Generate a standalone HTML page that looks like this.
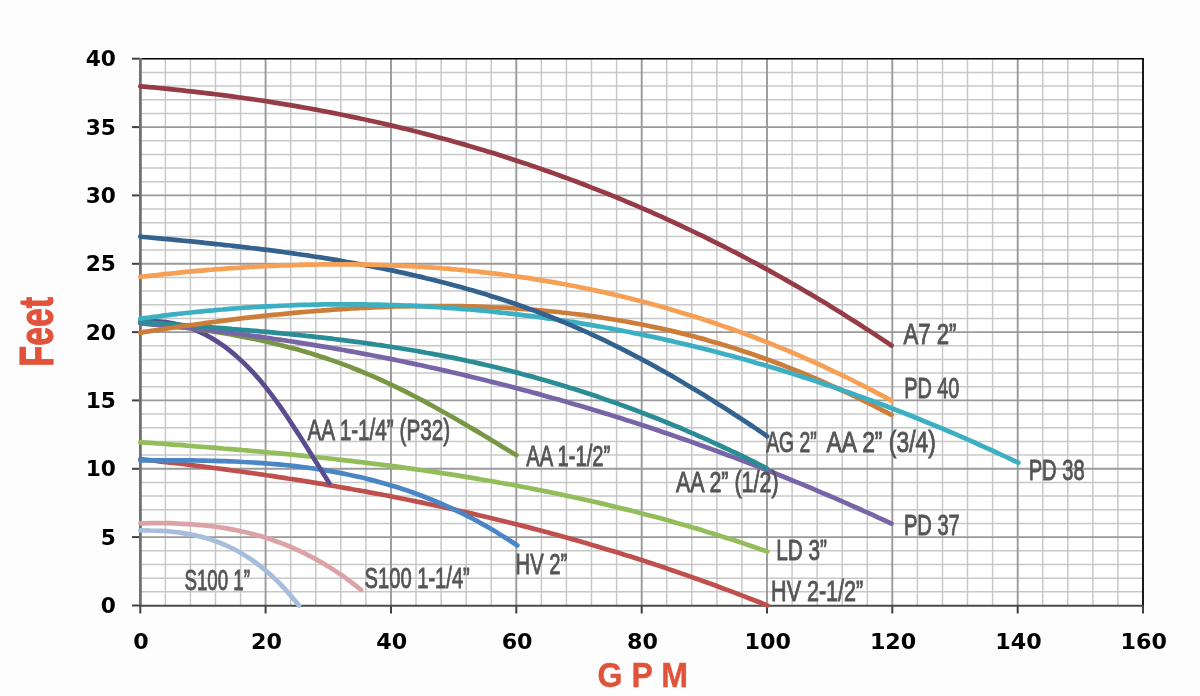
<!DOCTYPE html>
<html><head><meta charset="utf-8"><title>Pump Curves</title>
<style>
html,body{margin:0;padding:0;background:#fdfdfd;}
body{width:1200px;height:696px;overflow:hidden;}
svg{display:block;}
.tick{font-family:"DejaVu Sans","Liberation Sans",sans-serif;font-weight:bold;font-size:20.5px;fill:#000;}
.lbl{font-family:"Liberation Sans",sans-serif;font-weight:normal;font-size:29px;fill:#555555;stroke:#555555;stroke-width:0.9px;}
.ax{font-family:"Liberation Sans",sans-serif;font-weight:bold;fill:#e0533a;}
</style></head><body>
<svg width="1200" height="696" viewBox="0 0 1200 696">
<rect x="0" y="0" width="1200" height="696" fill="#fdfdfd"/>
<rect x="140.3" y="58.7" width="1002.7" height="546.8" fill="#ffffff"/>
<g stroke="#c8c8c8" stroke-width="1.5" fill="none"><line x1="141" y1="591.8" x2="1142" y2="591.8"/><line x1="141" y1="578.2" x2="1142" y2="578.2"/><line x1="141" y1="564.5" x2="1142" y2="564.5"/><line x1="141" y1="550.8" x2="1142" y2="550.8"/><line x1="141" y1="523.5" x2="1142" y2="523.5"/><line x1="141" y1="509.8" x2="1142" y2="509.8"/><line x1="141" y1="496.1" x2="1142" y2="496.1"/><line x1="141" y1="482.5" x2="1142" y2="482.5"/><line x1="141" y1="455.1" x2="1142" y2="455.1"/><line x1="141" y1="441.5" x2="1142" y2="441.5"/><line x1="141" y1="427.8" x2="1142" y2="427.8"/><line x1="141" y1="414.1" x2="1142" y2="414.1"/><line x1="141" y1="386.8" x2="1142" y2="386.8"/><line x1="141" y1="373.1" x2="1142" y2="373.1"/><line x1="141" y1="359.4" x2="1142" y2="359.4"/><line x1="141" y1="345.8" x2="1142" y2="345.8"/><line x1="141" y1="318.4" x2="1142" y2="318.4"/><line x1="141" y1="304.8" x2="1142" y2="304.8"/><line x1="141" y1="291.1" x2="1142" y2="291.1"/><line x1="141" y1="277.4" x2="1142" y2="277.4"/><line x1="141" y1="250.1" x2="1142" y2="250.1"/><line x1="141" y1="236.4" x2="1142" y2="236.4"/><line x1="141" y1="222.7" x2="1142" y2="222.7"/><line x1="141" y1="209.1" x2="1142" y2="209.1"/><line x1="141" y1="181.7" x2="1142" y2="181.7"/><line x1="141" y1="168.1" x2="1142" y2="168.1"/><line x1="141" y1="154.4" x2="1142" y2="154.4"/><line x1="141" y1="140.7" x2="1142" y2="140.7"/><line x1="141" y1="113.4" x2="1142" y2="113.4"/><line x1="141" y1="99.7" x2="1142" y2="99.7"/><line x1="141" y1="86.0" x2="1142" y2="86.0"/><line x1="141" y1="72.4" x2="1142" y2="72.4"/><line x1="165.4" y1="59" x2="165.4" y2="605"/><line x1="190.4" y1="59" x2="190.4" y2="605"/><line x1="215.5" y1="59" x2="215.5" y2="605"/><line x1="240.6" y1="59" x2="240.6" y2="605"/><line x1="290.7" y1="59" x2="290.7" y2="605"/><line x1="315.8" y1="59" x2="315.8" y2="605"/><line x1="340.8" y1="59" x2="340.8" y2="605"/><line x1="365.9" y1="59" x2="365.9" y2="605"/><line x1="416.0" y1="59" x2="416.0" y2="605"/><line x1="441.1" y1="59" x2="441.1" y2="605"/><line x1="466.2" y1="59" x2="466.2" y2="605"/><line x1="491.2" y1="59" x2="491.2" y2="605"/><line x1="541.4" y1="59" x2="541.4" y2="605"/><line x1="566.4" y1="59" x2="566.4" y2="605"/><line x1="591.5" y1="59" x2="591.5" y2="605"/><line x1="616.6" y1="59" x2="616.6" y2="605"/><line x1="666.7" y1="59" x2="666.7" y2="605"/><line x1="691.8" y1="59" x2="691.8" y2="605"/><line x1="716.9" y1="59" x2="716.9" y2="605"/><line x1="741.9" y1="59" x2="741.9" y2="605"/><line x1="792.1" y1="59" x2="792.1" y2="605"/><line x1="817.1" y1="59" x2="817.1" y2="605"/><line x1="842.2" y1="59" x2="842.2" y2="605"/><line x1="867.3" y1="59" x2="867.3" y2="605"/><line x1="917.4" y1="59" x2="917.4" y2="605"/><line x1="942.5" y1="59" x2="942.5" y2="605"/><line x1="967.5" y1="59" x2="967.5" y2="605"/><line x1="992.6" y1="59" x2="992.6" y2="605"/><line x1="1042.7" y1="59" x2="1042.7" y2="605"/><line x1="1067.8" y1="59" x2="1067.8" y2="605"/><line x1="1092.9" y1="59" x2="1092.9" y2="605"/><line x1="1117.9" y1="59" x2="1117.9" y2="605"/></g>
<g stroke="#9a9a9a" stroke-width="1.9" fill="none"><line x1="141" y1="537.1" x2="1142" y2="537.1"/><line x1="141" y1="468.8" x2="1142" y2="468.8"/><line x1="141" y1="400.4" x2="1142" y2="400.4"/><line x1="141" y1="332.1" x2="1142" y2="332.1"/><line x1="141" y1="263.8" x2="1142" y2="263.8"/><line x1="141" y1="195.4" x2="1142" y2="195.4"/><line x1="141" y1="127.1" x2="1142" y2="127.1"/><line x1="265.6" y1="59" x2="265.6" y2="605"/><line x1="391.0" y1="59" x2="391.0" y2="605"/><line x1="516.3" y1="59" x2="516.3" y2="605"/><line x1="641.7" y1="59" x2="641.7" y2="605"/><line x1="767.0" y1="59" x2="767.0" y2="605"/><line x1="892.3" y1="59" x2="892.3" y2="605"/><line x1="1017.7" y1="59" x2="1017.7" y2="605"/></g>
<line x1="140" y1="58.7" x2="1143.5" y2="58.7" stroke="#000" stroke-width="1.6"/>
<line x1="1143" y1="58" x2="1143" y2="606" stroke="#000" stroke-width="1.8"/>
<g stroke="#404040" stroke-width="2" fill="none"><line x1="132" y1="605.5" x2="140" y2="605.5"/><line x1="132" y1="537.1" x2="140" y2="537.1"/><line x1="132" y1="468.8" x2="140" y2="468.8"/><line x1="132" y1="400.4" x2="140" y2="400.4"/><line x1="132" y1="332.1" x2="140" y2="332.1"/><line x1="132" y1="263.8" x2="140" y2="263.8"/><line x1="132" y1="195.4" x2="140" y2="195.4"/><line x1="132" y1="127.1" x2="140" y2="127.1"/><line x1="132" y1="58.7" x2="140" y2="58.7"/><line x1="140.3" y1="605" x2="140.3" y2="613.5"/><line x1="265.6" y1="605" x2="265.6" y2="613.5"/><line x1="391.0" y1="605" x2="391.0" y2="613.5"/><line x1="516.3" y1="605" x2="516.3" y2="613.5"/><line x1="641.7" y1="605" x2="641.7" y2="613.5"/><line x1="767.0" y1="605" x2="767.0" y2="613.5"/><line x1="892.3" y1="605" x2="892.3" y2="613.5"/><line x1="1017.7" y1="605" x2="1017.7" y2="613.5"/><line x1="1143.0" y1="605" x2="1143.0" y2="613.5"/></g>
<line x1="140.4" y1="58" x2="140.4" y2="606.5" stroke="#707070" stroke-width="2.8"/>
<line x1="139" y1="605.7" x2="1143" y2="605.7" stroke="#4a4a4a" stroke-width="1.9"/>
<g fill="none" stroke-linecap="round" stroke-linejoin="round"><path d="M140.3,530.4 C142.0,530.4 146.9,530.4 150.2,530.5 C153.5,530.5 156.8,530.6 160.1,530.8 C163.4,531.0 166.8,531.2 170.1,531.5 C173.4,531.8 176.7,532.2 180.0,532.6 C183.3,533.1 186.6,533.6 189.9,534.2 C193.2,534.8 196.5,535.5 199.8,536.4 C203.1,537.2 206.4,538.1 209.7,539.2 C213.0,540.2 216.3,541.4 219.7,542.7 C223.0,544.0 226.3,545.4 229.6,547.0 C232.9,548.6 236.2,550.3 239.5,552.2 C242.8,554.1 246.1,556.1 249.4,558.3 C252.7,560.5 256.0,562.9 259.3,565.4 C262.6,568.0 265.9,570.7 269.2,573.6 C272.5,576.6 275.9,579.7 279.2,583.0 C282.5,586.3 285.8,589.8 289.1,593.6 C292.4,597.3 297.3,603.5 299.0,605.5" stroke="#a6bddd" stroke-width="4.7"/>
<path d="M140.3,523.3 C141.9,523.3 146.7,523.2 149.9,523.1 C153.1,523.1 156.3,523.1 159.5,523.1 C162.7,523.1 165.9,523.2 169.1,523.2 C172.3,523.3 175.5,523.4 178.7,523.6 C181.9,523.7 185.1,523.9 188.3,524.1 C191.5,524.3 194.7,524.5 197.9,524.8 C201.1,525.1 204.3,525.4 207.5,525.7 C210.7,526.1 213.9,526.5 217.1,527.0 C220.3,527.4 223.5,527.9 226.7,528.4 C229.9,529.0 233.1,529.6 236.3,530.2 C239.5,530.9 242.7,531.6 245.9,532.3 C249.1,533.1 252.2,533.9 255.4,534.8 C258.6,535.7 261.8,536.6 265.0,537.6 C268.2,538.6 271.4,539.6 274.6,540.8 C277.8,541.9 281.0,543.1 284.2,544.3 C287.4,545.6 290.6,546.9 293.8,548.3 C297.0,549.7 300.2,551.2 303.4,552.8 C306.6,554.3 309.8,556.0 313.0,557.7 C316.2,559.4 319.4,561.2 322.6,563.0 C325.8,564.9 329.0,566.9 332.2,568.9 C335.4,571.0 338.6,573.1 341.8,575.3 C345.0,577.5 348.2,579.9 351.4,582.3 C354.6,584.7 359.4,588.5 361.0,589.8" stroke="#dba3a6" stroke-width="4.7"/>
<path d="M140.3,459.2 C141.8,459.4 146.4,459.9 149.5,460.2 C152.6,460.6 155.7,460.9 158.7,461.3 C161.8,461.6 164.9,462.0 168.0,462.3 C171.0,462.7 174.1,463.0 177.2,463.4 C180.3,463.8 183.3,464.2 186.4,464.5 C189.5,464.9 192.6,465.3 195.6,465.7 C198.7,466.0 201.8,466.4 204.8,466.8 C207.9,467.2 211.0,467.6 214.1,468.0 C217.1,468.4 220.2,468.8 223.3,469.2 C226.4,469.6 229.4,470.0 232.5,470.5 C235.6,470.9 238.7,471.3 241.7,471.7 C244.8,472.2 247.9,472.6 250.9,473.0 C254.0,473.5 257.1,473.9 260.2,474.3 C263.2,474.8 266.3,475.2 269.4,475.7 C272.5,476.1 275.5,476.6 278.6,477.1 C281.7,477.5 284.8,478.0 287.8,478.5 C290.9,478.9 294.0,479.4 297.1,479.9 C300.1,480.4 303.2,480.9 306.3,481.4 C309.3,481.9 312.4,482.4 315.5,482.9 C318.6,483.4 321.6,483.9 324.7,484.4 C327.8,484.9 330.9,485.4 333.9,486.0 C337.0,486.5 340.1,487.0 343.2,487.6 C346.2,488.1 349.3,488.6 352.4,489.2 C355.4,489.7 358.5,490.3 361.6,490.9 C364.7,491.4 367.7,492.0 370.8,492.6 C373.9,493.1 377.0,493.7 380.0,494.3 C383.1,494.9 386.2,495.5 389.3,496.0 C392.3,496.6 395.4,497.2 398.5,497.9 C401.6,498.5 404.6,499.1 407.7,499.7 C410.8,500.3 413.8,500.9 416.9,501.6 C420.0,502.2 423.1,502.8 426.1,503.5 C429.2,504.1 432.3,504.8 435.4,505.4 C438.4,506.1 441.5,506.7 444.6,507.4 C447.7,508.1 450.7,508.8 453.8,509.4 C456.9,510.1 459.9,510.8 463.0,511.5 C466.1,512.2 469.2,512.9 472.2,513.6 C475.3,514.3 478.4,515.1 481.5,515.8 C484.5,516.5 487.6,517.2 490.7,518.0 C493.8,518.7 496.8,519.4 499.9,520.2 C503.0,520.9 506.1,521.7 509.1,522.5 C512.2,523.2 515.3,524.0 518.3,524.8 C521.4,525.6 524.5,526.4 527.6,527.1 C530.6,527.9 533.7,528.7 536.8,529.6 C539.9,530.4 542.9,531.2 546.0,532.0 C549.1,532.8 552.2,533.7 555.2,534.5 C558.3,535.3 561.4,536.2 564.4,537.0 C567.5,537.9 570.6,538.8 573.7,539.6 C576.7,540.5 579.8,541.4 582.9,542.3 C586.0,543.1 589.0,544.0 592.1,544.9 C595.2,545.8 598.3,546.7 601.3,547.7 C604.4,548.6 607.5,549.5 610.5,550.4 C613.6,551.4 616.7,552.3 619.8,553.3 C622.8,554.2 625.9,555.2 629.0,556.1 C632.1,557.1 635.1,558.1 638.2,559.1 C641.3,560.0 644.4,561.0 647.4,562.0 C650.5,563.0 653.6,564.0 656.7,565.1 C659.7,566.1 662.8,567.1 665.9,568.1 C668.9,569.2 672.0,570.2 675.1,571.3 C678.2,572.3 681.2,573.4 684.3,574.4 C687.4,575.5 690.5,576.6 693.5,577.7 C696.6,578.8 699.7,579.8 702.8,581.0 C705.8,582.1 708.9,583.2 712.0,584.3 C715.1,585.4 718.1,586.5 721.2,587.7 C724.3,588.8 727.3,590.0 730.4,591.1 C733.5,592.3 736.6,593.5 739.6,594.6 C742.7,595.8 745.8,597.0 748.9,598.2 C751.9,599.4 755.0,600.6 758.1,601.8 C761.2,603.0 765.8,604.9 767.3,605.5" stroke="#c0504d" stroke-width="4.7"/>
<path d="M140.3,460.4 C141.9,460.4 146.6,460.4 149.7,460.4 C152.9,460.3 156.0,460.3 159.2,460.3 C162.3,460.3 165.4,460.3 168.6,460.3 C171.7,460.3 174.9,460.3 178.0,460.4 C181.1,460.4 184.3,460.4 187.4,460.4 C190.6,460.4 193.7,460.5 196.9,460.5 C200.0,460.6 203.1,460.6 206.3,460.7 C209.4,460.7 212.6,460.8 215.7,460.9 C218.8,461.0 222.0,461.1 225.1,461.2 C228.3,461.3 231.4,461.4 234.6,461.5 C237.7,461.7 240.8,461.8 244.0,462.0 C247.1,462.1 250.3,462.3 253.4,462.5 C256.5,462.7 259.7,462.9 262.8,463.1 C266.0,463.4 269.1,463.6 272.2,463.9 C275.4,464.1 278.5,464.4 281.7,464.7 C284.8,465.0 288.0,465.3 291.1,465.7 C294.2,466.0 297.4,466.4 300.5,466.8 C303.7,467.2 306.8,467.6 309.9,468.0 C313.1,468.4 316.2,468.9 319.4,469.4 C322.5,469.9 325.7,470.4 328.8,470.9 C331.9,471.4 335.1,472.0 338.2,472.6 C341.4,473.2 344.5,473.8 347.6,474.5 C350.8,475.1 353.9,475.8 357.1,476.5 C360.2,477.2 363.4,477.9 366.5,478.7 C369.6,479.5 372.8,480.3 375.9,481.1 C379.1,482.0 382.2,482.8 385.4,483.7 C388.5,484.6 391.6,485.6 394.8,486.5 C397.9,487.5 401.1,488.5 404.2,489.6 C407.3,490.6 410.5,491.7 413.6,492.8 C416.8,493.9 419.9,495.1 423.0,496.3 C426.2,497.5 429.3,498.7 432.5,500.0 C435.6,501.3 438.8,502.6 441.9,504.0 C445.0,505.4 448.2,506.8 451.3,508.2 C454.5,509.7 457.6,511.1 460.8,512.7 C463.9,514.2 467.0,515.8 470.2,517.4 C473.3,519.1 476.5,520.7 479.6,522.5 C482.7,524.2 485.9,525.9 489.0,527.8 C492.2,529.6 495.3,531.5 498.4,533.4 C501.6,535.3 504.7,537.2 507.9,539.3 C511.0,541.3 515.7,544.4 517.3,545.5" stroke="#4a86c5" stroke-width="4.7"/>
<path d="M140.3,442.3 C141.8,442.4 146.4,442.7 149.5,442.9 C152.6,443.1 155.7,443.3 158.7,443.5 C161.8,443.8 164.9,444.0 168.0,444.2 C171.0,444.4 174.1,444.7 177.2,444.9 C180.3,445.1 183.3,445.3 186.4,445.6 C189.5,445.8 192.6,446.0 195.6,446.3 C198.7,446.5 201.8,446.7 204.8,447.0 C207.9,447.2 211.0,447.5 214.1,447.7 C217.1,448.0 220.2,448.2 223.3,448.5 C226.4,448.7 229.4,449.0 232.5,449.2 C235.6,449.5 238.7,449.7 241.7,450.0 C244.8,450.3 247.9,450.5 250.9,450.8 C254.0,451.1 257.1,451.4 260.2,451.6 C263.2,451.9 266.3,452.2 269.4,452.5 C272.5,452.8 275.5,453.0 278.6,453.3 C281.7,453.6 284.8,453.9 287.8,454.2 C290.9,454.5 294.0,454.8 297.1,455.1 C300.1,455.4 303.2,455.8 306.3,456.1 C309.3,456.4 312.4,456.7 315.5,457.0 C318.6,457.4 321.6,457.7 324.7,458.0 C327.8,458.3 330.9,458.7 333.9,459.0 C337.0,459.4 340.1,459.7 343.2,460.1 C346.2,460.4 349.3,460.8 352.4,461.1 C355.4,461.5 358.5,461.9 361.6,462.2 C364.7,462.6 367.7,463.0 370.8,463.4 C373.9,463.7 377.0,464.1 380.0,464.5 C383.1,464.9 386.2,465.3 389.3,465.7 C392.3,466.1 395.4,466.5 398.5,466.9 C401.6,467.3 404.6,467.7 407.7,468.2 C410.8,468.6 413.8,469.0 416.9,469.5 C420.0,469.9 423.1,470.3 426.1,470.8 C429.2,471.2 432.3,471.7 435.4,472.1 C438.4,472.6 441.5,473.0 444.6,473.5 C447.7,474.0 450.7,474.5 453.8,474.9 C456.9,475.4 459.9,475.9 463.0,476.4 C466.1,476.9 469.2,477.4 472.2,477.9 C475.3,478.4 478.4,478.9 481.5,479.5 C484.5,480.0 487.6,480.5 490.7,481.0 C493.8,481.6 496.8,482.1 499.9,482.7 C503.0,483.2 506.1,483.8 509.1,484.3 C512.2,484.9 515.3,485.5 518.3,486.0 C521.4,486.6 524.5,487.2 527.6,487.8 C530.6,488.4 533.7,489.0 536.8,489.6 C539.9,490.2 542.9,490.8 546.0,491.4 C549.1,492.0 552.2,492.7 555.2,493.3 C558.3,493.9 561.4,494.6 564.4,495.2 C567.5,495.9 570.6,496.5 573.7,497.2 C576.7,497.9 579.8,498.5 582.9,499.2 C586.0,499.9 589.0,500.6 592.1,501.3 C595.2,502.0 598.3,502.7 601.3,503.4 C604.4,504.2 607.5,504.9 610.5,505.6 C613.6,506.4 616.7,507.1 619.8,507.9 C622.8,508.6 625.9,509.4 629.0,510.1 C632.1,510.9 635.1,511.7 638.2,512.5 C641.3,513.3 644.4,514.1 647.4,514.9 C650.5,515.7 653.6,516.5 656.7,517.3 C659.7,518.2 662.8,519.0 665.9,519.8 C668.9,520.7 672.0,521.5 675.1,522.4 C678.2,523.3 681.2,524.2 684.3,525.0 C687.4,525.9 690.5,526.8 693.5,527.7 C696.6,528.6 699.7,529.6 702.8,530.5 C705.8,531.4 708.9,532.4 712.0,533.3 C715.1,534.3 718.1,535.2 721.2,536.2 C724.3,537.2 727.3,538.1 730.4,539.1 C733.5,540.1 736.6,541.1 739.6,542.1 C742.7,543.2 745.8,544.2 748.9,545.2 C751.9,546.3 755.0,547.3 758.1,548.4 C761.2,549.4 765.8,551.0 767.3,551.6" stroke="#92bd5a" stroke-width="4.7"/>
<path d="M140.3,321.5 C142.0,321.4 146.9,321.1 150.2,321.1 C153.6,321.1 156.9,321.2 160.2,321.5 C163.5,321.8 166.8,322.2 170.1,322.8 C173.4,323.3 176.8,324.0 180.1,324.9 C183.4,325.7 186.7,326.8 190.0,327.9 C193.3,329.1 196.6,330.5 200.0,332.0 C203.3,333.5 206.6,335.2 209.9,337.1 C213.2,339.0 216.5,341.0 219.8,343.3 C223.2,345.5 226.5,347.9 229.8,350.6 C233.1,353.2 236.4,356.0 239.7,359.1 C243.0,362.1 246.3,365.3 249.7,368.8 C253.0,372.2 256.3,375.9 259.6,379.8 C262.9,383.7 266.2,387.8 269.5,392.1 C272.9,396.4 276.2,401.0 279.5,405.7 C282.8,410.4 286.1,415.3 289.4,420.3 C292.7,425.3 296.1,430.4 299.4,435.6 C302.7,440.7 306.0,446.0 309.3,451.3 C312.6,456.6 315.9,461.9 319.3,467.2 C322.6,472.5 327.5,480.4 329.2,483.0" stroke="#5b4b8f" stroke-width="4.7"/>
<path d="M140.3,323.0 C141.9,323.2 146.6,323.6 149.7,323.9 C152.8,324.2 156.0,324.5 159.1,324.8 C162.2,325.1 165.4,325.4 168.5,325.7 C171.6,326.1 174.8,326.4 177.9,326.8 C181.0,327.2 184.2,327.5 187.3,327.9 C190.4,328.3 193.6,328.7 196.7,329.2 C199.8,329.6 203.0,330.0 206.1,330.5 C209.3,330.9 212.4,331.4 215.5,331.9 C218.7,332.4 221.8,332.9 224.9,333.5 C228.1,334.0 231.2,334.5 234.3,335.1 C237.5,335.7 240.6,336.3 243.7,336.9 C246.9,337.5 250.0,338.1 253.1,338.8 C256.3,339.4 259.4,340.1 262.5,340.8 C265.7,341.5 268.8,342.2 271.9,343.0 C275.1,343.7 278.2,344.5 281.3,345.3 C284.5,346.0 287.6,346.9 290.7,347.7 C293.9,348.6 297.0,349.4 300.1,350.3 C303.3,351.2 306.4,352.1 309.5,353.1 C312.7,354.0 315.8,355.0 318.9,356.0 C322.1,357.0 325.2,358.1 328.4,359.1 C331.5,360.2 334.6,361.3 337.8,362.4 C340.9,363.5 344.0,364.7 347.2,365.9 C350.3,367.0 353.4,368.3 356.6,369.5 C359.7,370.8 362.8,372.0 366.0,373.4 C369.1,374.7 372.2,376.0 375.4,377.4 C378.5,378.8 381.6,380.2 384.8,381.6 C387.9,383.1 391.0,384.6 394.2,386.1 C397.3,387.6 400.4,389.1 403.6,390.7 C406.7,392.3 409.8,393.9 413.0,395.5 C416.1,397.1 419.2,398.7 422.4,400.4 C425.5,402.1 428.6,403.8 431.8,405.5 C434.9,407.2 438.0,408.9 441.2,410.7 C444.3,412.4 447.4,414.2 450.6,416.0 C453.7,417.7 456.9,419.5 460.0,421.4 C463.1,423.2 466.3,425.0 469.4,426.9 C472.5,428.7 475.7,430.6 478.8,432.4 C481.9,434.3 485.1,436.2 488.2,438.1 C491.3,440.0 494.5,441.9 497.6,443.8 C500.7,445.7 503.9,447.6 507.0,449.5 C510.1,451.4 514.8,454.3 516.4,455.2" stroke="#789744" stroke-width="4.7"/>
<path d="M140.3,323.3 C141.8,323.4 146.4,323.8 149.5,324.1 C152.5,324.4 155.6,324.7 158.6,325.0 C161.7,325.2 164.7,325.5 167.8,325.8 C170.8,326.1 173.9,326.4 176.9,326.8 C180.0,327.1 183.1,327.4 186.1,327.7 C189.2,328.0 192.2,328.4 195.3,328.7 C198.3,329.0 201.4,329.4 204.4,329.7 C207.5,330.1 210.5,330.4 213.6,330.8 C216.6,331.2 219.7,331.5 222.7,331.9 C225.8,332.3 228.9,332.7 231.9,333.1 C235.0,333.5 238.0,333.8 241.1,334.2 C244.1,334.6 247.2,335.1 250.2,335.5 C253.3,335.9 256.3,336.3 259.4,336.7 C262.4,337.1 265.5,337.6 268.6,338.0 C271.6,338.5 274.7,338.9 277.7,339.4 C280.8,339.8 283.8,340.3 286.9,340.7 C289.9,341.2 293.0,341.7 296.0,342.1 C299.1,342.6 302.1,343.1 305.2,343.6 C308.3,344.1 311.3,344.6 314.4,345.1 C317.4,345.6 320.5,346.1 323.5,346.6 C326.6,347.1 329.6,347.6 332.7,348.2 C335.7,348.7 338.8,349.2 341.8,349.8 C344.9,350.3 347.9,350.9 351.0,351.4 C354.1,352.0 357.1,352.5 360.2,353.1 C363.2,353.7 366.3,354.3 369.3,354.8 C372.4,355.4 375.4,356.0 378.5,356.6 C381.5,357.2 384.6,357.8 387.6,358.4 C390.7,359.0 393.8,359.6 396.8,360.3 C399.9,360.9 402.9,361.5 406.0,362.1 C409.0,362.8 412.1,363.4 415.1,364.1 C418.2,364.7 421.2,365.4 424.3,366.0 C427.3,366.7 430.4,367.4 433.5,368.0 C436.5,368.7 439.6,369.4 442.6,370.1 C445.7,370.8 448.7,371.5 451.8,372.2 C454.8,372.9 457.9,373.6 460.9,374.3 C464.0,375.0 467.0,375.8 470.1,376.5 C473.1,377.2 476.2,378.0 479.3,378.7 C482.3,379.4 485.4,380.2 488.4,381.0 C491.5,381.7 494.5,382.5 497.6,383.2 C500.6,384.0 503.7,384.8 506.7,385.6 C509.8,386.4 512.8,387.2 515.9,388.0 C519.0,388.8 522.0,389.6 525.1,390.4 C528.1,391.2 531.2,392.0 534.2,392.9 C537.3,393.7 540.3,394.5 543.4,395.4 C546.4,396.2 549.5,397.1 552.5,397.9 C555.6,398.8 558.7,399.6 561.7,400.5 C564.8,401.4 567.8,402.3 570.9,403.2 C573.9,404.0 577.0,404.9 580.0,405.8 C583.1,406.7 586.1,407.6 589.2,408.6 C592.2,409.5 595.3,410.4 598.3,411.3 C601.4,412.2 604.5,413.2 607.5,414.1 C610.6,415.1 613.6,416.0 616.7,417.0 C619.7,417.9 622.8,418.9 625.8,419.9 C628.9,420.9 631.9,421.8 635.0,422.8 C638.0,423.8 641.1,424.8 644.2,425.8 C647.2,426.8 650.3,427.8 653.3,428.8 C656.4,429.9 659.4,430.9 662.5,431.9 C665.5,432.9 668.6,434.0 671.6,435.0 C674.7,436.1 677.7,437.1 680.8,438.2 C683.9,439.3 686.9,440.3 690.0,441.4 C693.0,442.5 696.1,443.6 699.1,444.7 C702.2,445.7 705.2,446.8 708.3,448.0 C711.3,449.1 714.4,450.2 717.4,451.3 C720.5,452.4 723.5,453.5 726.6,454.7 C729.7,455.8 732.7,457.0 735.8,458.1 C738.8,459.3 741.9,460.4 744.9,461.6 C748.0,462.8 751.0,463.9 754.1,465.1 C757.1,466.3 760.2,467.5 763.2,468.7 C766.3,469.9 769.4,471.1 772.4,472.3 C775.5,473.5 778.5,474.7 781.6,476.0 C784.6,477.2 787.7,478.4 790.7,479.7 C793.8,480.9 796.8,482.2 799.9,483.4 C802.9,484.7 806.0,486.0 809.1,487.2 C812.1,488.5 815.2,489.8 818.2,491.1 C821.3,492.4 824.3,493.7 827.4,495.0 C830.4,496.3 833.5,497.6 836.5,498.9 C839.6,500.3 842.6,501.6 845.7,502.9 C848.7,504.3 851.8,505.6 854.9,507.0 C857.9,508.3 861.0,509.7 864.0,511.1 C867.1,512.4 870.1,513.8 873.2,515.2 C876.2,516.6 879.3,518.0 882.3,519.4 C885.4,520.8 890.0,522.9 891.5,523.6" stroke="#7865a8" stroke-width="4.7"/>
<path d="M140.3,322.0 C141.8,322.2 146.4,322.5 149.5,322.7 C152.6,322.9 155.7,323.2 158.7,323.4 C161.8,323.6 164.9,323.8 167.9,324.0 C171.0,324.3 174.1,324.5 177.2,324.7 C180.2,324.9 183.3,325.2 186.4,325.4 C189.5,325.6 192.5,325.9 195.6,326.1 C198.7,326.3 201.7,326.6 204.8,326.8 C207.9,327.0 211.0,327.3 214.0,327.5 C217.1,327.7 220.2,328.0 223.2,328.2 C226.3,328.5 229.4,328.7 232.5,329.0 C235.5,329.2 238.6,329.5 241.7,329.8 C244.8,330.0 247.8,330.3 250.9,330.5 C254.0,330.8 257.0,331.1 260.1,331.4 C263.2,331.6 266.3,331.9 269.3,332.2 C272.4,332.5 275.5,332.8 278.5,333.1 C281.6,333.4 284.7,333.7 287.8,334.0 C290.8,334.3 293.9,334.6 297.0,334.9 C300.0,335.2 303.1,335.5 306.2,335.9 C309.3,336.2 312.3,336.5 315.4,336.9 C318.5,337.2 321.6,337.6 324.6,337.9 C327.7,338.3 330.8,338.6 333.8,339.0 C336.9,339.4 340.0,339.7 343.1,340.1 C346.1,340.5 349.2,340.9 352.3,341.3 C355.3,341.7 358.4,342.1 361.5,342.5 C364.6,342.9 367.6,343.4 370.7,343.8 C373.8,344.2 376.8,344.7 379.9,345.1 C383.0,345.6 386.1,346.0 389.1,346.5 C392.2,347.0 395.3,347.5 398.4,348.0 C401.4,348.5 404.5,349.0 407.6,349.5 C410.6,350.0 413.7,350.5 416.8,351.0 C419.9,351.6 422.9,352.1 426.0,352.7 C429.1,353.2 432.1,353.8 435.2,354.4 C438.3,354.9 441.4,355.5 444.4,356.1 C447.5,356.7 450.6,357.3 453.7,357.9 C456.7,358.6 459.8,359.2 462.9,359.9 C465.9,360.5 469.0,361.2 472.1,361.8 C475.2,362.5 478.2,363.2 481.3,363.9 C484.4,364.6 487.4,365.3 490.5,366.0 C493.6,366.8 496.7,367.5 499.7,368.2 C502.8,369.0 505.9,369.8 508.9,370.5 C512.0,371.3 515.1,372.1 518.2,372.9 C521.2,373.7 524.3,374.5 527.4,375.4 C530.5,376.2 533.5,377.0 536.6,377.9 C539.7,378.8 542.7,379.6 545.8,380.5 C548.9,381.4 552.0,382.3 555.0,383.2 C558.1,384.1 561.2,385.0 564.2,386.0 C567.3,386.9 570.4,387.9 573.5,388.8 C576.5,389.8 579.6,390.8 582.7,391.8 C585.7,392.8 588.8,393.8 591.9,394.8 C595.0,395.8 598.0,396.8 601.1,397.9 C604.2,398.9 607.3,400.0 610.3,401.1 C613.4,402.2 616.5,403.2 619.5,404.4 C622.6,405.5 625.7,406.6 628.8,407.7 C631.8,408.8 634.9,410.0 638.0,411.1 C641.0,412.3 644.1,413.5 647.2,414.7 C650.3,415.9 653.3,417.1 656.4,418.3 C659.5,419.5 662.5,420.7 665.6,422.0 C668.7,423.2 671.8,424.5 674.8,425.8 C677.9,427.0 681.0,428.3 684.1,429.6 C687.1,430.9 690.2,432.3 693.3,433.6 C696.3,434.9 699.4,436.3 702.5,437.6 C705.6,439.0 708.6,440.4 711.7,441.8 C714.8,443.2 717.8,444.6 720.9,446.0 C724.0,447.4 727.1,448.9 730.1,450.3 C733.2,451.8 736.3,453.2 739.4,454.7 C742.4,456.2 745.5,457.7 748.6,459.2 C751.6,460.7 754.7,462.3 757.8,463.8 C760.9,465.3 765.5,467.7 767.0,468.5" stroke="#2a8d95" stroke-width="4.7"/>
<path d="M140.3,332.7 C141.8,332.4 146.4,331.7 149.5,331.2 C152.5,330.8 155.6,330.3 158.6,329.8 C161.7,329.3 164.7,328.9 167.8,328.4 C170.8,328.0 173.9,327.5 176.9,327.1 C180.0,326.6 183.1,326.2 186.1,325.7 C189.2,325.3 192.2,324.9 195.3,324.5 C198.3,324.0 201.4,323.6 204.4,323.2 C207.5,322.8 210.5,322.4 213.6,322.0 C216.6,321.6 219.7,321.2 222.7,320.8 C225.8,320.4 228.9,320.0 231.9,319.6 C235.0,319.3 238.0,318.9 241.1,318.5 C244.1,318.1 247.2,317.8 250.2,317.4 C253.3,317.1 256.3,316.7 259.4,316.4 C262.4,316.1 265.5,315.7 268.6,315.4 C271.6,315.1 274.7,314.8 277.7,314.5 C280.8,314.2 283.8,313.9 286.9,313.6 C289.9,313.3 293.0,313.0 296.0,312.7 C299.1,312.4 302.1,312.1 305.2,311.9 C308.3,311.6 311.3,311.4 314.4,311.1 C317.4,310.9 320.5,310.6 323.5,310.4 C326.6,310.2 329.6,309.9 332.7,309.7 C335.7,309.5 338.8,309.3 341.8,309.1 C344.9,308.9 347.9,308.7 351.0,308.5 C354.1,308.4 357.1,308.2 360.2,308.0 C363.2,307.9 366.3,307.7 369.3,307.6 C372.4,307.4 375.4,307.3 378.5,307.2 C381.5,307.0 384.6,306.9 387.6,306.8 C390.7,306.7 393.8,306.6 396.8,306.5 C399.9,306.4 402.9,306.4 406.0,306.3 C409.0,306.2 412.1,306.2 415.1,306.1 C418.2,306.1 421.2,306.0 424.3,306.0 C427.3,306.0 430.4,306.0 433.5,306.0 C436.5,306.0 439.6,306.0 442.6,306.0 C445.7,306.0 448.7,306.0 451.8,306.1 C454.8,306.1 457.9,306.1 460.9,306.2 C464.0,306.3 467.0,306.3 470.1,306.4 C473.1,306.5 476.2,306.6 479.3,306.7 C482.3,306.8 485.4,306.9 488.4,307.0 C491.5,307.2 494.5,307.3 497.6,307.5 C500.6,307.6 503.7,307.8 506.7,307.9 C509.8,308.1 512.8,308.3 515.9,308.5 C519.0,308.7 522.0,308.9 525.1,309.1 C528.1,309.4 531.2,309.6 534.2,309.8 C537.3,310.1 540.3,310.4 543.4,310.6 C546.4,310.9 549.5,311.2 552.5,311.5 C555.6,311.8 558.7,312.1 561.7,312.5 C564.8,312.8 567.8,313.1 570.9,313.5 C573.9,313.8 577.0,314.2 580.0,314.6 C583.1,315.0 586.1,315.4 589.2,315.8 C592.2,316.2 595.3,316.7 598.3,317.1 C601.4,317.6 604.5,318.0 607.5,318.5 C610.6,319.0 613.6,319.5 616.7,320.0 C619.7,320.5 622.8,321.0 625.8,321.5 C628.9,322.1 631.9,322.6 635.0,323.2 C638.0,323.8 641.1,324.4 644.2,325.0 C647.2,325.6 650.3,326.2 653.3,326.9 C656.4,327.5 659.4,328.2 662.5,328.9 C665.5,329.5 668.6,330.2 671.6,330.9 C674.7,331.7 677.7,332.4 680.8,333.1 C683.9,333.9 686.9,334.7 690.0,335.4 C693.0,336.2 696.1,337.0 699.1,337.9 C702.2,338.7 705.2,339.5 708.3,340.4 C711.3,341.2 714.4,342.1 717.4,343.0 C720.5,343.9 723.5,344.9 726.6,345.8 C729.7,346.7 732.7,347.7 735.8,348.7 C738.8,349.6 741.9,350.6 744.9,351.7 C748.0,352.7 751.0,353.7 754.1,354.8 C757.1,355.8 760.2,356.9 763.2,358.0 C766.3,359.1 769.4,360.2 772.4,361.3 C775.5,362.5 778.5,363.6 781.6,364.8 C784.6,366.0 787.7,367.1 790.7,368.4 C793.8,369.6 796.8,370.8 799.9,372.0 C802.9,373.3 806.0,374.5 809.1,375.8 C812.1,377.1 815.2,378.4 818.2,379.7 C821.3,381.1 824.3,382.4 827.4,383.8 C830.4,385.1 833.5,386.5 836.5,387.9 C839.6,389.3 842.6,390.7 845.7,392.1 C848.7,393.6 851.8,395.0 854.9,396.5 C857.9,398.0 861.0,399.5 864.0,401.0 C867.1,402.5 870.1,404.0 873.2,405.5 C876.2,407.1 879.3,408.6 882.3,410.2 C885.4,411.8 890.0,414.2 891.5,415.0" stroke="#cd7d3a" stroke-width="4.7"/>
<path d="M140.3,318.7 C141.8,318.5 146.4,317.9 149.4,317.5 C152.5,317.0 155.5,316.6 158.6,316.3 C161.6,315.9 164.7,315.5 167.7,315.1 C170.8,314.8 173.8,314.4 176.9,314.0 C179.9,313.7 183.0,313.3 186.0,313.0 C189.1,312.7 192.1,312.4 195.2,312.0 C198.2,311.7 201.3,311.4 204.3,311.1 C207.4,310.8 210.4,310.5 213.5,310.3 C216.5,310.0 219.6,309.7 222.6,309.5 C225.7,309.2 228.7,309.0 231.8,308.7 C234.8,308.5 237.9,308.3 240.9,308.0 C244.0,307.8 247.0,307.6 250.1,307.4 C253.1,307.2 256.1,307.0 259.2,306.8 C262.2,306.7 265.3,306.5 268.3,306.3 C271.4,306.2 274.4,306.0 277.5,305.9 C280.5,305.7 283.6,305.6 286.6,305.5 C289.7,305.4 292.7,305.2 295.8,305.1 C298.8,305.0 301.9,304.9 304.9,304.8 C308.0,304.8 311.0,304.7 314.1,304.6 C317.1,304.6 320.2,304.5 323.2,304.4 C326.3,304.4 329.3,304.4 332.4,304.3 C335.4,304.3 338.5,304.3 341.5,304.3 C344.6,304.3 347.6,304.3 350.7,304.3 C353.7,304.3 356.8,304.3 359.8,304.3 C362.8,304.4 365.9,304.4 368.9,304.5 C372.0,304.5 375.0,304.6 378.1,304.6 C381.1,304.7 384.2,304.8 387.2,304.9 C390.3,304.9 393.3,305.0 396.4,305.1 C399.4,305.3 402.5,305.4 405.5,305.5 C408.6,305.6 411.6,305.8 414.7,305.9 C417.7,306.0 420.8,306.2 423.8,306.4 C426.9,306.5 429.9,306.7 433.0,306.9 C436.0,307.1 439.1,307.3 442.1,307.5 C445.2,307.7 448.2,307.9 451.3,308.1 C454.3,308.3 457.4,308.5 460.4,308.8 C463.5,309.0 466.5,309.3 469.6,309.5 C472.6,309.8 475.6,310.1 478.7,310.3 C481.7,310.6 484.8,310.9 487.8,311.2 C490.9,311.5 493.9,311.8 497.0,312.1 C500.0,312.5 503.1,312.8 506.1,313.1 C509.2,313.5 512.2,313.8 515.3,314.2 C518.3,314.5 521.4,314.9 524.4,315.3 C527.5,315.7 530.5,316.0 533.6,316.4 C536.6,316.8 539.7,317.2 542.7,317.7 C545.8,318.1 548.8,318.5 551.9,318.9 C554.9,319.4 558.0,319.8 561.0,320.3 C564.1,320.7 567.1,321.2 570.2,321.7 C573.2,322.1 576.3,322.6 579.3,323.1 C582.3,323.6 585.4,324.1 588.4,324.6 C591.5,325.1 594.5,325.7 597.6,326.2 C600.6,326.7 603.7,327.3 606.7,327.8 C609.8,328.4 612.8,328.9 615.9,329.5 C618.9,330.1 622.0,330.7 625.0,331.3 C628.1,331.8 631.1,332.4 634.2,333.1 C637.2,333.7 640.3,334.3 643.3,334.9 C646.4,335.6 649.4,336.2 652.5,336.8 C655.5,337.5 658.6,338.2 661.6,338.8 C664.7,339.5 667.7,340.2 670.8,340.9 C673.8,341.6 676.9,342.3 679.9,343.0 C683.0,343.7 686.0,344.4 689.0,345.1 C692.1,345.9 695.1,346.6 698.2,347.4 C701.2,348.1 704.3,348.9 707.3,349.6 C710.4,350.4 713.4,351.2 716.5,352.0 C719.5,352.8 722.6,353.6 725.6,354.4 C728.7,355.2 731.7,356.0 734.8,356.8 C737.8,357.6 740.9,358.5 743.9,359.3 C747.0,360.2 750.0,361.0 753.1,361.9 C756.1,362.8 759.2,363.7 762.2,364.5 C765.3,365.4 768.3,366.3 771.4,367.2 C774.4,368.1 777.5,369.1 780.5,370.0 C783.6,370.9 786.6,371.9 789.7,372.8 C792.7,373.8 795.8,374.7 798.8,375.7 C801.8,376.7 804.9,377.6 807.9,378.6 C811.0,379.6 814.0,380.6 817.1,381.6 C820.1,382.6 823.2,383.6 826.2,384.7 C829.3,385.7 832.3,386.7 835.4,387.8 C838.4,388.8 841.5,389.9 844.5,391.0 C847.6,392.0 850.6,393.1 853.7,394.2 C856.7,395.3 859.8,396.4 862.8,397.5 C865.9,398.6 868.9,399.7 872.0,400.8 C875.0,402.0 878.1,403.1 881.1,404.2 C884.2,405.4 887.2,406.6 890.3,407.7 C893.3,408.9 896.4,410.1 899.4,411.3 C902.5,412.4 905.5,413.6 908.5,414.8 C911.6,416.1 914.6,417.3 917.7,418.5 C920.7,419.7 923.8,421.0 926.8,422.2 C929.9,423.5 932.9,424.7 936.0,426.0 C939.0,427.3 942.1,428.5 945.1,429.8 C948.2,431.1 951.2,432.4 954.3,433.7 C957.3,435.0 960.4,436.4 963.4,437.7 C966.5,439.0 969.5,440.4 972.6,441.7 C975.6,443.1 978.7,444.4 981.7,445.8 C984.8,447.2 987.8,448.5 990.9,449.9 C993.9,451.3 997.0,452.7 1000.0,454.1 C1003.1,455.5 1006.1,457.0 1009.2,458.4 C1012.2,459.8 1016.8,462.0 1018.3,462.7" stroke="#3cb0c2" stroke-width="4.7"/>
<path d="M140.3,236.7 C141.8,236.8 146.4,237.3 149.5,237.5 C152.6,237.8 155.7,238.1 158.7,238.4 C161.8,238.7 164.9,239.0 168.0,239.2 C171.0,239.5 174.1,239.8 177.2,240.1 C180.2,240.4 183.3,240.7 186.4,241.0 C189.5,241.3 192.5,241.6 195.6,241.9 C198.7,242.2 201.8,242.5 204.8,242.9 C207.9,243.2 211.0,243.5 214.1,243.8 C217.1,244.1 220.2,244.5 223.3,244.8 C226.3,245.1 229.4,245.5 232.5,245.8 C235.6,246.2 238.6,246.5 241.7,246.9 C244.8,247.2 247.9,247.6 250.9,248.0 C254.0,248.3 257.1,248.7 260.1,249.1 C263.2,249.5 266.3,249.8 269.4,250.2 C272.4,250.6 275.5,251.0 278.6,251.4 C281.7,251.8 284.7,252.3 287.8,252.7 C290.9,253.1 294.0,253.5 297.0,254.0 C300.1,254.4 303.2,254.8 306.2,255.3 C309.3,255.8 312.4,256.2 315.5,256.7 C318.5,257.2 321.6,257.6 324.7,258.1 C327.8,258.6 330.8,259.1 333.9,259.6 C337.0,260.1 340.0,260.7 343.1,261.2 C346.2,261.7 349.3,262.2 352.3,262.8 C355.4,263.3 358.5,263.9 361.6,264.5 C364.6,265.0 367.7,265.6 370.8,266.2 C373.9,266.8 376.9,267.4 380.0,268.0 C383.1,268.6 386.1,269.3 389.2,269.9 C392.3,270.5 395.4,271.2 398.4,271.9 C401.5,272.5 404.6,273.2 407.7,273.9 C410.7,274.6 413.8,275.3 416.9,276.0 C419.9,276.7 423.0,277.4 426.1,278.2 C429.2,278.9 432.2,279.7 435.3,280.4 C438.4,281.2 441.5,282.0 444.5,282.8 C447.6,283.6 450.7,284.4 453.8,285.2 C456.8,286.0 459.9,286.9 463.0,287.7 C466.0,288.6 469.1,289.5 472.2,290.3 C475.3,291.2 478.3,292.1 481.4,293.1 C484.5,294.0 487.6,294.9 490.6,295.9 C493.7,296.8 496.8,297.8 499.8,298.8 C502.9,299.8 506.0,300.8 509.1,301.8 C512.1,302.8 515.2,303.9 518.3,304.9 C521.4,306.0 524.4,307.1 527.5,308.2 C530.6,309.3 533.6,310.4 536.7,311.5 C539.8,312.7 542.9,313.8 545.9,315.0 C549.0,316.2 552.1,317.4 555.2,318.7 C558.2,319.9 561.3,321.2 564.4,322.4 C567.5,323.7 570.5,325.0 573.6,326.3 C576.7,327.7 579.7,329.0 582.8,330.4 C585.9,331.7 589.0,333.1 592.0,334.6 C595.1,336.0 598.2,337.4 601.3,338.9 C604.3,340.3 607.4,341.8 610.5,343.3 C613.5,344.8 616.6,346.3 619.7,347.9 C622.8,349.4 625.8,351.0 628.9,352.6 C632.0,354.2 635.1,355.8 638.1,357.4 C641.2,359.0 644.3,360.7 647.4,362.3 C650.4,364.0 653.5,365.7 656.6,367.4 C659.6,369.1 662.7,370.8 665.8,372.5 C668.9,374.3 671.9,376.0 675.0,377.8 C678.1,379.6 681.2,381.4 684.2,383.2 C687.3,385.0 690.4,386.9 693.4,388.7 C696.5,390.6 699.6,392.4 702.7,394.3 C705.7,396.2 708.8,398.1 711.9,400.0 C715.0,401.9 718.0,403.9 721.1,405.8 C724.2,407.8 727.3,409.7 730.3,411.7 C733.4,413.7 736.5,415.7 739.5,417.7 C742.6,419.7 745.7,421.8 748.8,423.8 C751.8,425.9 754.9,427.9 758.0,430.0 C761.1,432.1 765.7,435.2 767.2,436.3" stroke="#33628e" stroke-width="4.7"/>
<path d="M140.3,276.9 C141.8,276.7 146.4,276.2 149.5,275.8 C152.5,275.5 155.6,275.1 158.6,274.8 C161.7,274.4 164.7,274.1 167.8,273.8 C170.8,273.5 173.9,273.2 176.9,272.8 C180.0,272.5 183.1,272.2 186.1,271.9 C189.2,271.7 192.2,271.4 195.3,271.1 C198.3,270.8 201.4,270.6 204.4,270.3 C207.5,270.0 210.5,269.8 213.6,269.5 C216.6,269.3 219.7,269.1 222.7,268.8 C225.8,268.6 228.9,268.4 231.9,268.2 C235.0,268.0 238.0,267.7 241.1,267.6 C244.1,267.4 247.2,267.2 250.2,267.0 C253.3,266.8 256.3,266.6 259.4,266.5 C262.4,266.3 265.5,266.2 268.6,266.0 C271.6,265.9 274.7,265.8 277.7,265.6 C280.8,265.5 283.8,265.4 286.9,265.3 C289.9,265.2 293.0,265.1 296.0,265.0 C299.1,264.9 302.1,264.8 305.2,264.7 C308.3,264.7 311.3,264.6 314.4,264.6 C317.4,264.5 320.5,264.5 323.5,264.4 C326.6,264.4 329.6,264.4 332.7,264.4 C335.7,264.4 338.8,264.4 341.8,264.4 C344.9,264.4 347.9,264.4 351.0,264.4 C354.1,264.4 357.1,264.5 360.2,264.5 C363.2,264.6 366.3,264.6 369.3,264.7 C372.4,264.8 375.4,264.8 378.5,264.9 C381.5,265.0 384.6,265.1 387.6,265.2 C390.7,265.3 393.8,265.5 396.8,265.6 C399.9,265.7 402.9,265.9 406.0,266.0 C409.0,266.2 412.1,266.3 415.1,266.5 C418.2,266.7 421.2,266.8 424.3,267.0 C427.3,267.2 430.4,267.4 433.5,267.7 C436.5,267.9 439.6,268.1 442.6,268.4 C445.7,268.6 448.7,268.8 451.8,269.1 C454.8,269.4 457.9,269.6 460.9,269.9 C464.0,270.2 467.0,270.5 470.1,270.8 C473.1,271.1 476.2,271.5 479.3,271.8 C482.3,272.1 485.4,272.5 488.4,272.8 C491.5,273.2 494.5,273.5 497.6,273.9 C500.6,274.3 503.7,274.7 506.7,275.1 C509.8,275.5 512.8,275.9 515.9,276.4 C519.0,276.8 522.0,277.2 525.1,277.7 C528.1,278.1 531.2,278.6 534.2,279.1 C537.3,279.6 540.3,280.1 543.4,280.6 C546.4,281.1 549.5,281.6 552.5,282.1 C555.6,282.7 558.7,283.2 561.7,283.8 C564.8,284.3 567.8,284.9 570.9,285.5 C573.9,286.0 577.0,286.6 580.0,287.3 C583.1,287.9 586.1,288.5 589.2,289.1 C592.2,289.8 595.3,290.4 598.3,291.1 C601.4,291.7 604.5,292.4 607.5,293.1 C610.6,293.8 613.6,294.5 616.7,295.2 C619.7,295.9 622.8,296.7 625.8,297.4 C628.9,298.2 631.9,298.9 635.0,299.7 C638.0,300.5 641.1,301.3 644.2,302.1 C647.2,302.9 650.3,303.7 653.3,304.5 C656.4,305.3 659.4,306.2 662.5,307.0 C665.5,307.9 668.6,308.8 671.6,309.7 C674.7,310.5 677.7,311.4 680.8,312.4 C683.9,313.3 686.9,314.2 690.0,315.2 C693.0,316.1 696.1,317.1 699.1,318.1 C702.2,319.0 705.2,320.0 708.3,321.0 C711.3,322.0 714.4,323.1 717.4,324.1 C720.5,325.1 723.5,326.2 726.6,327.3 C729.7,328.3 732.7,329.4 735.8,330.5 C738.8,331.6 741.9,332.7 744.9,333.8 C748.0,335.0 751.0,336.1 754.1,337.3 C757.1,338.4 760.2,339.6 763.2,340.8 C766.3,342.0 769.4,343.2 772.4,344.4 C775.5,345.7 778.5,346.9 781.6,348.2 C784.6,349.4 787.7,350.7 790.7,352.0 C793.8,353.3 796.8,354.6 799.9,355.9 C802.9,357.2 806.0,358.6 809.1,359.9 C812.1,361.3 815.2,362.7 818.2,364.0 C821.3,365.4 824.3,366.8 827.4,368.3 C830.4,369.7 833.5,371.1 836.5,372.6 C839.6,374.0 842.6,375.5 845.7,377.0 C848.7,378.5 851.8,380.0 854.9,381.5 C857.9,383.0 861.0,384.6 864.0,386.1 C867.1,387.7 870.1,389.3 873.2,390.9 C876.2,392.5 879.3,394.1 882.3,395.7 C885.4,397.3 890.0,399.8 891.5,400.7" stroke="#f5a055" stroke-width="4.7"/>
<path d="M140.3,86.4 C141.8,86.5 146.4,86.9 149.5,87.2 C152.5,87.4 155.6,87.7 158.6,88.0 C161.7,88.3 164.7,88.6 167.8,88.9 C170.8,89.2 173.9,89.5 176.9,89.8 C180.0,90.1 183.1,90.4 186.1,90.8 C189.2,91.1 192.2,91.5 195.3,91.8 C198.3,92.1 201.4,92.5 204.4,92.9 C207.5,93.2 210.5,93.6 213.6,94.0 C216.6,94.3 219.7,94.7 222.7,95.1 C225.8,95.5 228.9,95.9 231.9,96.3 C235.0,96.7 238.0,97.2 241.1,97.6 C244.1,98.0 247.2,98.4 250.2,98.9 C253.3,99.3 256.3,99.8 259.4,100.2 C262.4,100.7 265.5,101.1 268.6,101.6 C271.6,102.1 274.7,102.6 277.7,103.1 C280.8,103.6 283.8,104.1 286.9,104.6 C289.9,105.1 293.0,105.6 296.0,106.1 C299.1,106.7 302.1,107.2 305.2,107.7 C308.3,108.3 311.3,108.8 314.4,109.4 C317.4,110.0 320.5,110.5 323.5,111.1 C326.6,111.7 329.6,112.3 332.7,112.9 C335.7,113.5 338.8,114.1 341.8,114.7 C344.9,115.3 347.9,115.9 351.0,116.6 C354.1,117.2 357.1,117.8 360.2,118.5 C363.2,119.1 366.3,119.8 369.3,120.5 C372.4,121.2 375.4,121.8 378.5,122.5 C381.5,123.2 384.6,123.9 387.6,124.6 C390.7,125.3 393.8,126.1 396.8,126.8 C399.9,127.5 402.9,128.3 406.0,129.0 C409.0,129.7 412.1,130.5 415.1,131.3 C418.2,132.0 421.2,132.8 424.3,133.6 C427.3,134.4 430.4,135.2 433.5,136.0 C436.5,136.8 439.6,137.6 442.6,138.5 C445.7,139.3 448.7,140.1 451.8,141.0 C454.8,141.8 457.9,142.7 460.9,143.6 C464.0,144.4 467.0,145.3 470.1,146.2 C473.1,147.1 476.2,148.0 479.3,148.9 C482.3,149.8 485.4,150.8 488.4,151.7 C491.5,152.6 494.5,153.6 497.6,154.5 C500.6,155.5 503.7,156.5 506.7,157.4 C509.8,158.4 512.8,159.4 515.9,160.4 C519.0,161.4 522.0,162.4 525.1,163.4 C528.1,164.5 531.2,165.5 534.2,166.5 C537.3,167.6 540.3,168.6 543.4,169.7 C546.4,170.8 549.5,171.8 552.5,172.9 C555.6,174.0 558.7,175.1 561.7,176.2 C564.8,177.3 567.8,178.5 570.9,179.6 C573.9,180.7 577.0,181.9 580.0,183.0 C583.1,184.2 586.1,185.4 589.2,186.6 C592.2,187.7 595.3,188.9 598.3,190.1 C601.4,191.3 604.5,192.6 607.5,193.8 C610.6,195.0 613.6,196.3 616.7,197.5 C619.7,198.8 622.8,200.0 625.8,201.3 C628.9,202.6 631.9,203.9 635.0,205.2 C638.0,206.5 641.1,207.8 644.2,209.1 C647.2,210.5 650.3,211.8 653.3,213.1 C656.4,214.5 659.4,215.9 662.5,217.2 C665.5,218.6 668.6,220.0 671.6,221.4 C674.7,222.8 677.7,224.2 680.8,225.6 C683.9,227.1 686.9,228.5 690.0,230.0 C693.0,231.4 696.1,232.9 699.1,234.4 C702.2,235.8 705.2,237.3 708.3,238.8 C711.3,240.3 714.4,241.9 717.4,243.4 C720.5,244.9 723.5,246.5 726.6,248.0 C729.7,249.6 732.7,251.2 735.8,252.7 C738.8,254.3 741.9,255.9 744.9,257.5 C748.0,259.1 751.0,260.8 754.1,262.4 C757.1,264.0 760.2,265.7 763.2,267.4 C766.3,269.0 769.4,270.7 772.4,272.4 C775.5,274.1 778.5,275.8 781.6,277.5 C784.6,279.2 787.7,281.0 790.7,282.7 C793.8,284.5 796.8,286.2 799.9,288.0 C802.9,289.8 806.0,291.6 809.1,293.4 C812.1,295.2 815.2,297.0 818.2,298.8 C821.3,300.6 824.3,302.5 827.4,304.3 C830.4,306.2 833.5,308.1 836.5,310.0 C839.6,311.9 842.6,313.8 845.7,315.7 C848.7,317.6 851.8,319.5 854.9,321.5 C857.9,323.4 861.0,325.4 864.0,327.4 C867.1,329.3 870.1,331.3 873.2,333.3 C876.2,335.3 879.3,337.4 882.3,339.4 C885.4,341.4 890.0,344.5 891.5,345.5" stroke="#963c46" stroke-width="4.7"/></g>
<g class="tick"><text transform="translate(115.9,613.1) scale(1.06,1)" text-anchor="end">0</text><text transform="translate(115.9,544.8) scale(1.06,1)" text-anchor="end">5</text><text transform="translate(115.9,476.4) scale(1.06,1)" text-anchor="end">10</text><text transform="translate(115.9,408.1) scale(1.06,1)" text-anchor="end">15</text><text transform="translate(115.9,339.7) scale(1.06,1)" text-anchor="end">20</text><text transform="translate(115.9,271.4) scale(1.06,1)" text-anchor="end">25</text><text transform="translate(115.9,203.0) scale(1.06,1)" text-anchor="end">30</text><text transform="translate(115.9,134.7) scale(1.06,1)" text-anchor="end">35</text><text transform="translate(115.9,66.3) scale(1.06,1)" text-anchor="end">40</text><text transform="translate(141.1,648.8) scale(1.085,1)" text-anchor="middle">0</text><text transform="translate(266.4,648.8) scale(1.085,1)" text-anchor="middle">20</text><text transform="translate(391.8,648.8) scale(1.085,1)" text-anchor="middle">40</text><text transform="translate(517.1,648.8) scale(1.085,1)" text-anchor="middle">60</text><text transform="translate(642.5,648.8) scale(1.085,1)" text-anchor="middle">80</text><text transform="translate(767.8,648.8) scale(1.085,1)" text-anchor="middle">100</text><text transform="translate(893.1,648.8) scale(1.085,1)" text-anchor="middle">120</text><text transform="translate(1018.5,648.8) scale(1.085,1)" text-anchor="middle">140</text><text transform="translate(1143.8,648.8) scale(1.085,1)" text-anchor="middle">160</text></g>
<g class="lbl"><text x="903.5" y="343.7" textLength="53.0" lengthAdjust="spacingAndGlyphs">A7 2”</text>
<text x="904.2" y="397.7" textLength="55.2" lengthAdjust="spacingAndGlyphs">PD 40</text>
<text x="766.2" y="451.6" textLength="50.6" lengthAdjust="spacingAndGlyphs">AG 2”</text>
<text x="826.6" y="451.6" textLength="109.2" lengthAdjust="spacingAndGlyphs">AA 2” (3/4)</text>
<text x="1028.7" y="480.3" textLength="55.9" lengthAdjust="spacingAndGlyphs">PD 38</text>
<text x="676.0" y="491.9" textLength="102.6" lengthAdjust="spacingAndGlyphs">AA 2” (1/2)</text>
<text x="526.2" y="466.4" textLength="84.0" lengthAdjust="spacingAndGlyphs">AA 1-1/2”</text>
<text x="307.5" y="439.7" textLength="142.6" lengthAdjust="spacingAndGlyphs">AA 1-1/4” (P32)</text>
<text x="903.9" y="534.6" textLength="55.9" lengthAdjust="spacingAndGlyphs">PD 37</text>
<text x="776.2" y="560.4" textLength="50.8" lengthAdjust="spacingAndGlyphs">LD 3”</text>
<text x="515.6" y="573.6" textLength="51.7" lengthAdjust="spacingAndGlyphs">HV 2”</text>
<text x="771.1" y="601.4" textLength="92.1" lengthAdjust="spacingAndGlyphs">HV 2-1/2”</text>
<text x="184.4" y="589.6" textLength="65.6" lengthAdjust="spacingAndGlyphs">S100 1”</text>
<text x="364.6" y="588.0" textLength="105.2" lengthAdjust="spacingAndGlyphs">S100 1-1/4”</text></g>
<text class="ax" stroke="#e0533a" stroke-width="0.4" x="597.5" y="687.3" font-size="34.6" textLength="90.5" lengthAdjust="spacingAndGlyphs">G P M</text>
<text class="ax" stroke="#e0533a" stroke-width="1.1" transform="translate(52.9,366.5) rotate(-90)" x="0" y="0" font-size="48.2" textLength="69.5" lengthAdjust="spacingAndGlyphs">Feet</text>
</svg>
</body></html>
